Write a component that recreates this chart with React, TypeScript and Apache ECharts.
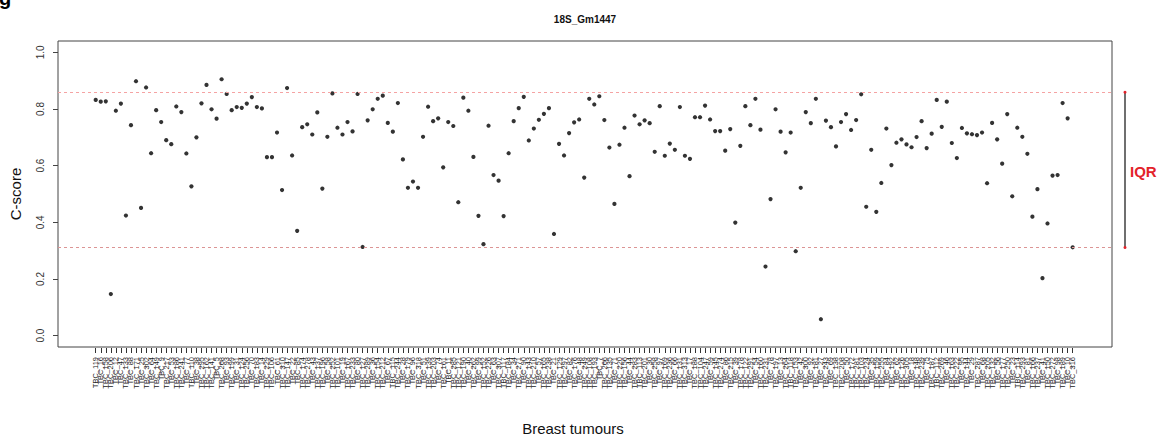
import React, { useEffect, useRef } from "react";
import * as echarts from "echarts";

const titleText = "18S_Gm1447";
const yAxisTitle = "C-score";
const xAxisTitle = "Breast tumours";

const yTickValues = [0, 0.2, 0.4, 0.6, 0.8, 1.0];
const upperQuartileLine = 0.859;
const lowerQuartileLine = 0.311;

const tumourIds = (
  "TBC_119 TBC_16 TBC_158 TBC_206 TBC_12 TBC_47 TBC_133 TBC_88 TBC_171 TBC_25 TBC_302 TBC_64 TBC_149 TBC_9 TBC_217 " +
  "TBC_53 TBC_186 TBC_241 TBC_77 TBC_110 TBC_38 TBC_295 TBC_162 TBC_141 TBC_5 TBC_268 TBC_93 TBC_199 TBC_31 TBC_124 " +
  "TBC_256 TBC_70 TBC_183 TBC_14 TBC_229 TBC_106 TBC_61 TBC_310 TBC_147 TBC_22 TBC_85 TBC_174 TBC_278 TBC_43 TBC_137 " +
  "TBC_196 TBC_58 TBC_252 TBC_101 TBC_19 TBC_167 TBC_233 TBC_80 TBC_127 TBC_289 TBC_36 TBC_154 TBC_212 TBC_67 TBC_115 " +
  "TBC_244 TBC_28 TBC_179 TBC_96 TBC_318 TBC_51 TBC_139 TBC_203 TBC_74 TBC_161 TBC_11 TBC_285 TBC_121 TBC_190 TBC_40 " +
  "TBC_262 TBC_99 TBC_152 TBC_226 TBC_63 TBC_307 TBC_117 TBC_184 TBC_34 TBC_271 TBC_90 TBC_143 TBC_210 TBC_57 TBC_165 " +
  "TBC_238 TBC_21 TBC_129 TBC_297 TBC_82 TBC_176 TBC_48 TBC_249 TBC_108 TBC_193 TBC_7 TBC_266 TBC_135 TBC_71 TBC_220 " +
  "TBC_156 TBC_44 TBC_283 TBC_113 TBC_201 TBC_30 TBC_258 TBC_97 TBC_169 TBC_236 TBC_66 TBC_131 TBC_313 TBC_17 TBC_188 " +
  "TBC_104 TBC_247 TBC_59 TBC_145 TBC_274 TBC_86 TBC_215 TBC_39 TBC_178 TBC_122 TBC_291 TBC_54 TBC_160 TBC_231 TBC_78 " +
  "TBC_197 TBC_13 TBC_264 TBC_118 TBC_153 TBC_42 TBC_300 TBC_92 TBC_181 TBC_27 TBC_243 TBC_69 TBC_138 TBC_208 TBC_50 " +
  "TBC_172 TBC_281 TBC_103 TBC_224 TBC_35 TBC_159 TBC_255 TBC_84 TBC_192 TBC_62 TBC_126 TBC_305 TBC_18 TBC_148 TBC_239 " +
  "TBC_75 TBC_187 TBC_112 TBC_269 TBC_46 TBC_163 TBC_222 TBC_95 TBC_144 TBC_29 TBC_287 TBC_68 TBC_205 TBC_132 TBC_56 " +
  "TBC_177 TBC_250 TBC_23 TBC_114 TBC_293 TBC_81 TBC_166 TBC_237 TBC_41 TBC_150 TBC_272 TBC_98 TBC_189 TBC_10 TBC_316"
).split(" ");

const cScores = [
  0.832, 0.826, 0.827, 0.147, 0.794, 0.819, 0.424, 0.743, 0.898, 0.451,
  0.876, 0.644, 0.796, 0.754, 0.690, 0.676, 0.809, 0.789, 0.643, 0.527,
  0.700, 0.820, 0.885, 0.799, 0.766, 0.905, 0.853, 0.796, 0.807, 0.804,
  0.819, 0.842, 0.807, 0.802, 0.630, 0.630, 0.717, 0.514, 0.874, 0.636,
  0.370, 0.736, 0.746, 0.710, 0.788, 0.519, 0.702,
  0.855, 0.734, 0.710, 0.754, 0.721, 0.853, 0.313, 0.760, 0.799, 0.836,
  0.847, 0.751, 0.720, 0.821, 0.622, 0.522, 0.544, 0.522, 0.702, 0.808,
  0.757, 0.767, 0.594, 0.754, 0.740, 0.471, 0.840, 0.794,
  0.631, 0.423, 0.323, 0.741, 0.567, 0.547, 0.422, 0.644, 0.757, 0.803,
  0.843, 0.689, 0.731, 0.762, 0.783, 0.803, 0.359, 0.677, 0.636, 0.715,
  0.753, 0.763, 0.558, 0.836, 0.816, 0.845, 0.761, 0.664, 0.465,
  0.674, 0.734, 0.563, 0.777, 0.746, 0.760, 0.750, 0.649, 0.810, 0.635,
  0.678, 0.656, 0.807, 0.635, 0.624, 0.771, 0.771, 0.812, 0.763, 0.722,
  0.722, 0.653, 0.729, 0.399, 0.670, 0.810, 0.743, 0.836, 0.727,
  0.244, 0.482, 0.799, 0.720, 0.647, 0.717, 0.298, 0.522, 0.789, 0.750,
  0.836, 0.058, 0.759, 0.736, 0.668, 0.754, 0.782, 0.726, 0.761, 0.852,
  0.455, 0.656, 0.437, 0.539, 0.731, 0.602, 0.681, 0.693,
  0.675, 0.665, 0.701, 0.757, 0.662, 0.713, 0.832, 0.737, 0.826, 0.680,
  0.627, 0.733, 0.714, 0.711, 0.708, 0.717, 0.538, 0.751, 0.693, 0.607,
  0.782, 0.492, 0.734, 0.702, 0.642, 0.420, 0.517, 0.203, 0.396, 0.565,
  0.567, 0.821, 0.767, 0.312,
];

const FONT = "'Liberation Sans', Arial, Helvetica, sans-serif";

export default function App() {
  const ref = useRef<HTMLDivElement>(null);

  useEffect(() => {
    if (!ref.current) return;
    const chart = echarts.init(ref.current, undefined, { renderer: "svg" });
    const yMin = -0.04;
    const yMax = 1.04;
    const plotTop = 41;
    const plotHeight = 306;

    chart.setOption({
      animation: false,
      backgroundColor: "#ffffff",
      textStyle: { fontFamily: FONT },
      title: {
        text: titleText,
        left: "center",
        top: 9,
        textStyle: { fontSize: 10, fontWeight: "bold", color: "#111", fontFamily: FONT },
      },
      grid: [
        { left: 93.2, top: plotTop, width: 982, height: plotHeight, show: false },
        {
          left: 57, top: plotTop, width: 1055, height: plotHeight, show: true,
          borderColor: "#444", borderWidth: 1, backgroundColor: "transparent",
        },
        { left: 1121, top: plotTop, width: 8, height: plotHeight, show: false },
      ],
      xAxis: [
        {
          type: "category",
          gridIndex: 0,
          position: "bottom",
          offset: 1,
          data: tumourIds,
          boundaryGap: true,
          axisLine: { show: true, onZero: false, lineStyle: { color: "rgba(0,0,0,0)" } },
          axisTick: {
            show: true, interval: 0, alignWithLabel: true, inside: false, length: 5,
            lineStyle: { color: "#333", width: 1 },
          },
          axisLabel: {
            show: true, interval: 0, rotate: 90, fontSize: 7.5, color: "#222",
            margin: 9, fontFamily: FONT, hideOverlap: false,
          },
          splitLine: { show: false },
        },
        { type: "value", gridIndex: 1, min: 0, max: 1, show: false },
        { type: "value", gridIndex: 2, min: 0, max: 1, show: false },
      ],
      yAxis: [
        { type: "value", gridIndex: 0, min: yMin, max: yMax, show: false },
        {
          type: "value",
          gridIndex: 1,
          min: yMin,
          max: yMax,
          name: yAxisTitle,
          nameLocation: "middle",
          nameRotate: 90,
          nameGap: 35,
          nameTextStyle: { fontSize: 15, color: "#111", fontFamily: FONT },
          axisLine: { show: false },
          splitLine: { show: false },
          axisTick: {
            show: true, length: 5, customValues: yTickValues,
            lineStyle: { color: "#444" },
          },
          axisLabel: {
            show: true,
            customValues: yTickValues,
            rotate: 90,
            fontSize: 10,
            color: "#333",
            margin: 13,
            fontFamily: FONT,
            formatter: (v: number) => v.toFixed(1),
          },
        },
        { type: "value", gridIndex: 2, min: yMin, max: yMax, show: false },
      ],
      series: [
        {
          type: "scatter",
          xAxisIndex: 0,
          yAxisIndex: 0,
          data: cScores,
          symbol: "circle",
          symbolSize: 4.2,
          itemStyle: { color: "#000" },
          silent: true,
        },
        {
          type: "line",
          xAxisIndex: 1,
          yAxisIndex: 1,
          data: [[0, upperQuartileLine]],
          showSymbol: false,
          symbol: "none",
          lineStyle: { opacity: 0 },
          silent: true,
          markLine: {
            silent: true,
            symbol: "none",
            label: { show: false },
            data: [
              [
                { coord: [0, upperQuartileLine], lineStyle: { color: "#f5a3a3", type: [3, 3], width: 1 } },
                { coord: [1, upperQuartileLine] },
              ],
              [
                { coord: [0, lowerQuartileLine], lineStyle: { color: "#dc9595", type: [3, 3], width: 1 } },
                { coord: [1, lowerQuartileLine] },
              ],
            ],
          },
        },
        {
          type: "line",
          xAxisIndex: 2,
          yAxisIndex: 2,
          data: [
            [0.5, upperQuartileLine],
            [0.5, lowerQuartileLine],
          ],
          symbol: "circle",
          symbolSize: 3,
          showSymbol: true,
          itemStyle: { color: "#e3222a" },
          lineStyle: { color: "#6f6f6f", width: 2 },
          silent: true,
          z: 1,
        },
      ],
      graphic: [
        {
          type: "text",
          left: -1,
          top: -12,
          style: { text: "g", fontSize: 20, fontWeight: "bold", fill: "#000", fontFamily: FONT },
        },
        {
          type: "text",
          x: 1130,
          y: 171,
          style: {
            text: "IQR", fontSize: 15, fontWeight: "bold", fill: "#e3222a",
            fontFamily: FONT, verticalAlign: "middle",
          },
        },
        {
          type: "text",
          x: 573,
          y: 428,
          style: {
            text: xAxisTitle, fontSize: 15, fill: "#111", fontFamily: FONT,
            align: "center", verticalAlign: "middle",
          },
        },
      ],
    });

    return () => {
      chart.dispose();
    };
  }, []);

  return (
    <div
      ref={ref}
      style={{ position: "absolute", left: 0, top: 0, width: 1170, height: 439, background: "#fff" }}
    />
  );
}
